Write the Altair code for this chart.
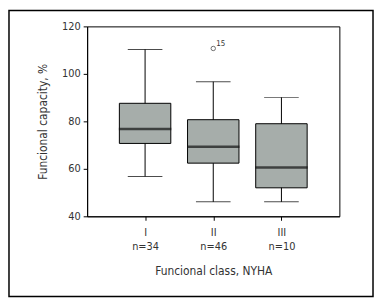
import altair as alt
import pandas as pd

classes = ["I", "II", "III"]
counts = ["n=34", "n=46", "n=10"]
q1 = [70.7, 62.4, 52.0]
q3 = [87.6, 80.7, 79.0]
median = [76.8, 69.3, 60.6]
wlow = [56.8, 46.1, 46.1]
whigh = [110.3, 96.7, 90.1]
out_class = ["II"]
out_value = [110.7]
out_label = ["15"]

df = pd.DataFrame({"cls": classes, "q1": q1, "q3": q3, "med": median,
                   "lo": wlow, "hi": whigh})
odf = pd.DataFrame({"cls": out_class, "v": out_value, "lab": out_label})

FONT = "'DejaVu Sans Condensed', 'Liberation Sans', sans-serif"
TXT = "#333333"

label_expr = " : ".join(
    [f"datum.value == '{c}' ? ['{c}', '{n}']" for c, n in zip(classes, counts)]
) + " : datum.value"

xenc = alt.X("cls:N", sort=classes,
             scale=alt.Scale(type="point", padding=0.85),
             axis=alt.Axis(title="Funcional class, NYHA", labelAngle=0,
                           labelExpr=label_expr, labelLineHeight=15,
                           labelPadding=6, tickSize=4, titlePadding=14))
yscale = alt.Scale(domain=[40, 120], nice=False, zero=False)
yaxis = alt.Axis(title="Funcional capacity, %", values=[40, 60, 80, 100, 120],
                 tickSize=4, labelPadding=3, titlePadding=12, grid=False)

base = alt.Chart(df)

whisk = base.mark_rule(color="black", strokeWidth=1).encode(
    x=xenc, y=alt.Y("lo:Q", scale=yscale, axis=yaxis), y2="hi:Q")
caps_lo = base.mark_tick(color="black", size=35, thickness=1).encode(
    x=xenc, y=alt.Y("lo:Q", scale=yscale))
caps_hi = base.mark_tick(color="black", size=35, thickness=1).encode(
    x=xenc, y=alt.Y("hi:Q", scale=yscale))
box = base.mark_bar(size=52, color="#a6adaa", stroke="black",
                    strokeWidth=1).encode(
    x=xenc, y=alt.Y("q1:Q", scale=yscale), y2="q3:Q")
med = base.mark_tick(color="#111111", size=53, thickness=2.5).encode(
    x=xenc, y=alt.Y("med:Q", scale=yscale))

opt = alt.Chart(odf).mark_point(shape="circle", filled=False, size=20,
                                color="#333333", strokeWidth=1).encode(
    x=xenc, y=alt.Y("v:Q", scale=yscale))
olab = alt.Chart(odf).mark_text(font=FONT, fontSize=8, color=TXT, dx=3,
                                dy=-5, align="left").encode(
    x=xenc, y=alt.Y("v:Q", scale=yscale), text="lab:N")

frame = alt.Chart(pd.DataFrame({"k": [0]})).mark_rect(
    fill=None, stroke="black", strokeWidth=1.5).encode(
    x=alt.value(-79), x2=alt.value(289), y=alt.value(-16), y2=alt.value(273))

chart = alt.layer(frame, whisk, caps_lo, caps_hi, box, med, opt, olab).properties(
    width=255, height=192,
    autosize=alt.AutoSizeParams(type="none"),
    padding={"left": 80, "top": 17, "right": 35, "bottom": 82},
).configure_view(stroke="black", strokeWidth=1).configure_axis(
    labelFont=FONT, titleFont=FONT, labelFontSize=11, titleFontSize=12,
    labelColor=TXT, titleColor=TXT, titleFontWeight="normal",
    domainColor="black", tickColor="black",
)

chart.save("out.html", embed_options={"renderer": "svg", "actions": False})
